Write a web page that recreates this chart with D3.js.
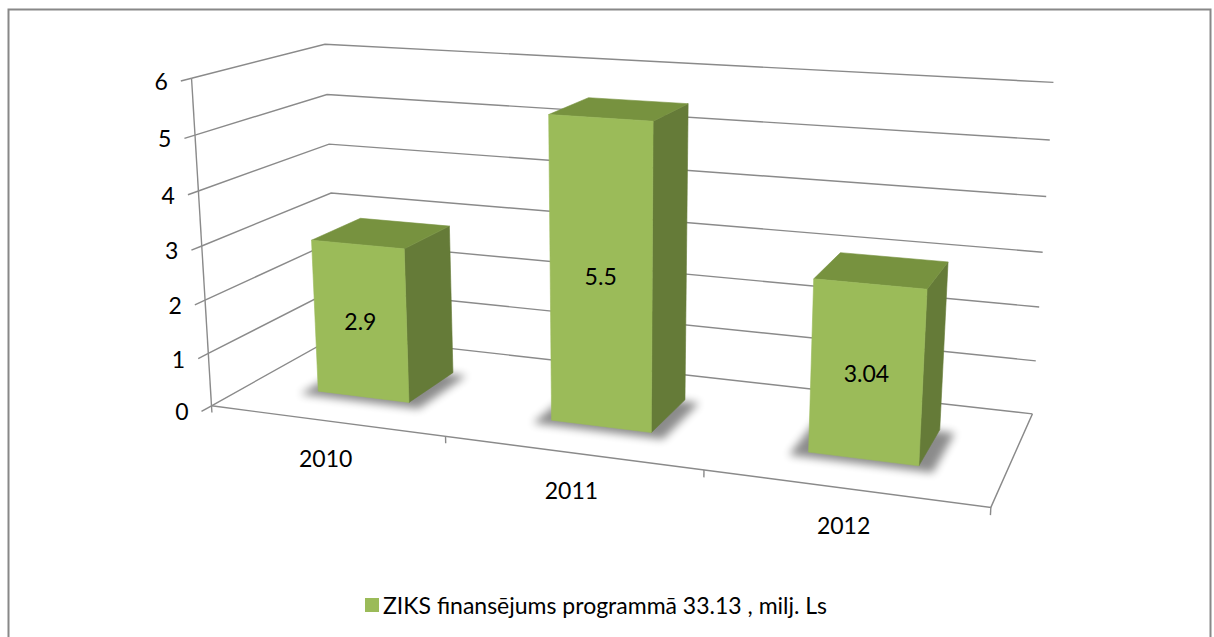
<!DOCTYPE html>
<html><head><meta charset="utf-8">
<script src="https://cdn.jsdelivr.net/npm/d3@7"></script>
<style>
body{margin:0;background:#fff;}
text{font-family:Lato,"Open Sans",sans-serif;fill:#000;}
</style>
</head><body>
<svg id="chart" width="1214" height="637"></svg>
<script>
// ---- data ----
const categories = ["2010", "2011", "2012"];
const values = [2.9, 5.5, 3.04];
const valueLabels = ["2.9", "5.5", "3.04"];
const yTicks = [0, 1, 2, 3, 4, 5, 6];
const seriesNames = ["ZIKS finansējums programmā 33.13 , milj. Ls"];

// ---- perspective frame calibration (layout): [u, value, w, screenX, screenY] ----
const frame = [
  [0,6,0,191.7,78.3],[0,5,0,195,135],[0,4,0,198.3,190.7],[0,3,0,201.7,246],[0,2,0,205,300],[0,1,0,208.3,353.3],[0,0,0,211.7,406],
  [0,6,1,325,44.3],[0,5,1,327,94.3],[0,4,1,329,144.3],[0,3,1,331,193.3],
  [1,6,1,1053.3,82.3],[1,5,1,1050,140],[1,4,1,1046,196.7],[1,3,1,1042.7,252.3],[1,2,1,1039.3,307],[1,1,1,1036,361],[1,0,1,1032.3,413.3],
  [1,0,0,990.7,507.7]
];

const svg = d3.select("#chart");
const COL_FRONT = "#9BBB59", COL_TOP = "#77923F", COL_SIDE = "#657B38";
const GRID = "#8a8a8a";

// scales
const yScale = d3.scaleLinear().domain([0, 6]).range([0, 1]);
const xScale = d3.scaleBand().domain(categories).range([0, 1]).paddingInner(0.6).paddingOuter(0.3);
const zScale = d3.scaleBand().domain(seriesNames).range([0, 1]).paddingInner(0.6).paddingOuter(0.3);

// fit 3x4 projection (DLT with m34 = 1), normalized screen coords
const CX = 600, CY = 300, S = 500;
function solve(M){
  const n = M.length;
  for (let i=0;i<n;i++){
    let p=i; for(let r=i+1;r<n;r++) if(Math.abs(M[r][i])>Math.abs(M[p][i])) p=r;
    [M[i],M[p]]=[M[p],M[i]];
    for(let r=i+1;r<n;r++){const f=M[r][i]/M[i][i]; for(let c=i;c<=n;c++) M[r][c]-=f*M[i][c];}
  }
  const x=new Array(n).fill(0);
  for(let i=n-1;i>=0;i--){let s=M[i][n]; for(let c=i+1;c<n;c++) s-=M[i][c]*x[c]; x[i]=s/M[i][i];}
  return x;
}
const P = (function(){
  const n=11, M=Array.from({length:n},()=>new Array(n+1).fill(0));
  const rows=[];
  frame.forEach(([U,val,W,sx,sy])=>{
    const V=yScale(val), x=(sx-CX)/S, y=(sy-CY)/S;
    rows.push([[U,V,W,1,0,0,0,0,-x*U,-x*V,-x*W],x]);
    rows.push([[0,0,0,0,U,V,W,1,-y*U,-y*V,-y*W],y]);
  });
  rows.forEach(([a,b])=>{for(let i=0;i<n;i++){for(let j=0;j<n;j++) M[i][j]+=a[i]*a[j]; M[i][n]+=a[i]*b;}});
  return solve(M);
})();
function proj(u, val, w){
  const v = yScale(val);
  const X=P[0]*u+P[1]*v+P[2]*w+P[3], Y=P[4]*u+P[5]*v+P[6]*w+P[7], Z=P[8]*u+P[9]*v+P[10]*w+1;
  return [X/Z*S+CX, Y/Z*S+CY];
}
const line = d3.line();

// defs
const defs = svg.append("defs");
defs.append("filter").attr("id","blur").attr("x","-50%").attr("y","-50%").attr("width","200%").attr("height","200%")
  .append("feGaussianBlur").attr("stdDeviation",4);

// outer border
svg.append("rect").attr("x",8.5).attr("y",9.5).attr("width",1202).attr("height",640)
  .attr("fill","none").attr("stroke","#888").attr("stroke-width",2);

// walls gridlines
const g = svg.append("g");
yTicks.forEach(t=>{
  g.append("path").attr("d", line([proj(0,t,0), proj(0,t,1), proj(1,t,1)]))
    .attr("fill","none").attr("stroke",GRID).attr("stroke-width",1.4);
});
// floor front & right edges
g.append("path").attr("d", line([proj(0,0,0), proj(1,0,0), proj(1,0,1)]))
  .attr("fill","none").attr("stroke",GRID).attr("stroke-width",1.4);
// value axis
g.append("path").attr("d", line([proj(0,0,0), proj(0,6,0)]))
  .attr("fill","none").attr("stroke",GRID).attr("stroke-width",1.4);
yTicks.forEach(t=>{
  const a=proj(0,t,0), b=proj(0,t,-0.07);
  g.append("path").attr("d", line([a,b])).attr("stroke",GRID).attr("stroke-width",1.4);
  g.append("text").attr("x",b[0]-13).attr("y",b[1]).attr("text-anchor","end")
    .attr("dominant-baseline","central").style("font-size","23px").text(d3.format("d")(t));
});
// category ticks
d3.range(categories.length+1).forEach(i=>{
  const u = i*xScale.step();
  const a=proj(u,0,0), b=proj(u,-0.13,0);
  g.append("path").attr("d", line([a,b])).attr("stroke",GRID).attr("stroke-width",1.4);
});
categories.forEach(c=>{
  const p = proj(xScale(c)+xScale.bandwidth()/2, 0, 0);
  g.append("text").attr("x",p[0]).attr("y",p[1]+37).attr("text-anchor","middle")
    .attr("dominant-baseline","central").style("font-size","23px").text(c);
});

// bars
const bars = svg.append("g");
const s = seriesNames[0];
categories.forEach((c,i)=>{
  const u0=xScale(c), u1=u0+xScale.bandwidth();
  const w0=zScale(s), w1=w0+zScale.bandwidth();
  const v=values[i], e=0.02;
  // shadow
  bars.append("path").attr("d", line([proj(u0-e,0,w0-e),proj(u1+e,0,w0-e),proj(u1+e,0,w1+e),proj(u0-e,0,w1+e)])+"Z")
    .attr("fill","#000").attr("opacity",0.45).attr("transform","translate(-2,3)").attr("filter","url(#blur)");
  const face=(pts,col)=>bars.append("path").attr("d",line(pts)+"Z").attr("fill",col).attr("stroke",col).attr("stroke-width",0.6).attr("stroke-linejoin","round");
  face([proj(u1,0,w0),proj(u1,0,w1),proj(u1,v,w1),proj(u1,v,w0)], COL_SIDE);
  face([proj(u0,v,w0),proj(u1,v,w0),proj(u1,v,w1),proj(u0,v,w1)], COL_TOP);
  face([proj(u0,0,w0),proj(u1,0,w0),proj(u1,v,w0),proj(u0,v,w0)], COL_FRONT);
  const lp = proj((u0+u1)/2, v/2, w0);
  bars.append("text").attr("x",lp[0]).attr("y",lp[1]).attr("text-anchor","middle")
    .attr("dominant-baseline","central").style("font-size","23px").text(valueLabels[i]);
});

// legend
const lg = svg.append("g").attr("transform","translate(365,598)");
lg.append("rect").attr("width",14).attr("height",14).attr("fill",COL_FRONT);
lg.append("text").attr("x",18).attr("y",7).attr("dominant-baseline","central").style("font-size","23px").text(seriesNames[0]);
</script>
</body></html>
